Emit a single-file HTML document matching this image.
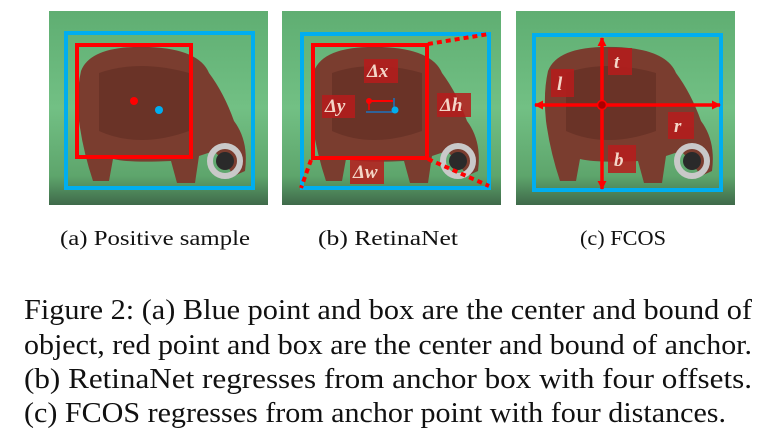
<!DOCTYPE html>
<html><head><meta charset="utf-8"><style>
html,body{margin:0;padding:0;background:#fff;width:761px;height:438px;overflow:hidden}
svg{display:block}
.sc{font-family:"Liberation Serif",serif;font-size:21px;fill:#111}
.cap{font-family:"Liberation Serif",serif;font-size:29px;fill:#111}
.lb{font-family:"Liberation Serif",serif;font-style:italic;font-weight:bold;font-size:19px;fill:#f4d6c8}
</style></head><body>
<svg width="761" height="438" viewBox="0 0 761 438">
<defs>
<linearGradient id="g" x1="0" y1="0" x2="0" y2="1">
<stop offset="0" stop-color="#5fae72"/><stop offset="0.5" stop-color="#72c084"/><stop offset="0.85" stop-color="#5ea56c"/><stop offset="1" stop-color="#3f6a4a"/></linearGradient>
<g id="img">
<rect x="0" y="0" width="219" height="194" fill="url(#g)"/>
<path d="M32 60 Q42 34 100 36 Q150 38 160 62 Q175 82 185 110 Q200 130 196 160 L185 165 Q175 150 165 140 L150 145 L146 172 L128 172 L122 150 Q80 152 64 148 L60 170 L44 170 Q34 140 30 110 Q27 82 32 60Z" fill="#7a3d2f"/>
<path d="M50 62 Q90 48 140 62 L140 120 Q90 138 50 120Z" fill="#5a2a20" opacity="0.5"/>
<circle cx="176" cy="150" r="15" fill="none" stroke="#c9c9c9" stroke-width="6"/>
<circle cx="176" cy="150" r="9" fill="#2a2a2a"/>
</g>
<marker id="ah" viewBox="0 0 10 10" refX="9" refY="5" markerWidth="2.6" markerHeight="2.6" orient="auto"><path d="M0 0L10 5L0 10Z" fill="#f00"/></marker>
</defs>
<!-- panel a -->
<use href="#img" x="49" y="11"/>
<rect x="66" y="33" width="187" height="155" fill="none" stroke="#00aeef" stroke-width="4"/>
<rect x="77" y="45" width="114" height="112" fill="none" stroke="#f00" stroke-width="4"/>
<circle cx="134" cy="101" r="4" fill="#f00"/>
<circle cx="159" cy="110" r="4" fill="#00aeef"/>
<!-- panel b -->
<use href="#img" x="282" y="11"/>
<rect x="302" y="34" width="187" height="154" fill="none" stroke="#00aeef" stroke-width="4"/>
<rect x="313" y="45" width="114" height="113" fill="none" stroke="#f00" stroke-width="4"/>
<g stroke="#f00" stroke-width="4" stroke-dasharray="5 4">
<line x1="428" y1="44" x2="489" y2="34"/><line x1="311" y1="160" x2="301" y2="188"/><line x1="428" y1="159" x2="489" y2="186"/></g>
<g fill="#b71c1c" opacity="0.85">
<rect x="364" y="59" width="34" height="24"/><rect x="322" y="95" width="33" height="23"/><rect x="437" y="93" width="34" height="24"/><rect x="350" y="160" width="34" height="24"/></g>
<text class="lb" x="367" y="77">Δx</text><text class="lb" x="325" y="112">Δy</text><text class="lb" x="440" y="111">Δh</text><text class="lb" x="353" y="178">Δw</text>
<line x1="369" y1="101" x2="393" y2="101" stroke="#f00" stroke-width="2"/>
<line x1="369" y1="101" x2="369" y2="110" stroke="#f00" stroke-width="1.5"/>
<line x1="366" y1="112" x2="395" y2="112" stroke="#1e73be" stroke-width="1.5"/>
<line x1="394" y1="98" x2="394" y2="110" stroke="#1e73be" stroke-width="1.5"/>
<circle cx="369" cy="101" r="3" fill="#f00"/><circle cx="395" cy="110" r="3.5" fill="#00aeef"/>
<!-- panel c -->
<use href="#img" x="516" y="11"/>
<rect x="534" y="35" width="187" height="155" fill="none" stroke="#00aeef" stroke-width="4"/>
<g stroke="#f00" stroke-width="3.5">
<line x1="602" y1="105" x2="602" y2="38" marker-end="url(#ah)"/><line x1="602" y1="105" x2="602" y2="189" marker-end="url(#ah)"/>
<line x1="602" y1="105" x2="535" y2="105" marker-end="url(#ah)"/><line x1="602" y1="105" x2="720" y2="105" marker-end="url(#ah)"/></g>
<circle cx="602" cy="105" r="4.5" fill="#a00" stroke="#f00" stroke-width="1.5"/>
<g fill="#b71c1c" opacity="0.85">
<rect x="608" y="48" width="24" height="27"/><rect x="551" y="69" width="23" height="28"/><rect x="668" y="112" width="26" height="27"/><rect x="608" y="145" width="28" height="28"/></g>
<text class="lb" x="614" y="68">t</text><text class="lb" x="557" y="90">l</text><text class="lb" x="674" y="132">r</text><text class="lb" x="614" y="166">b</text>
<!-- subcaptions -->
<text class="sc" x="60" y="245" textLength="190" lengthAdjust="spacingAndGlyphs">(a) Positive sample</text>
<text class="sc" x="318" y="245" textLength="140" lengthAdjust="spacingAndGlyphs">(b) RetinaNet</text>
<text class="sc" x="580" y="245" textLength="86" lengthAdjust="spacingAndGlyphs">(c) FCOS</text>
<!-- caption -->
<text class="cap" x="24" y="319" textLength="728" lengthAdjust="spacingAndGlyphs">Figure 2: (a) Blue point and box are the center and bound of</text>
<text class="cap" x="24" y="354" textLength="728" lengthAdjust="spacingAndGlyphs">object, red point and box are the center and bound of anchor.</text>
<text class="cap" x="24" y="388" textLength="728" lengthAdjust="spacingAndGlyphs">(b) RetinaNet regresses from anchor box with four offsets.</text>
<text class="cap" x="24" y="422" textLength="702" lengthAdjust="spacingAndGlyphs">(c) FCOS regresses from anchor point with four distances.</text>
</svg>
</body></html>
